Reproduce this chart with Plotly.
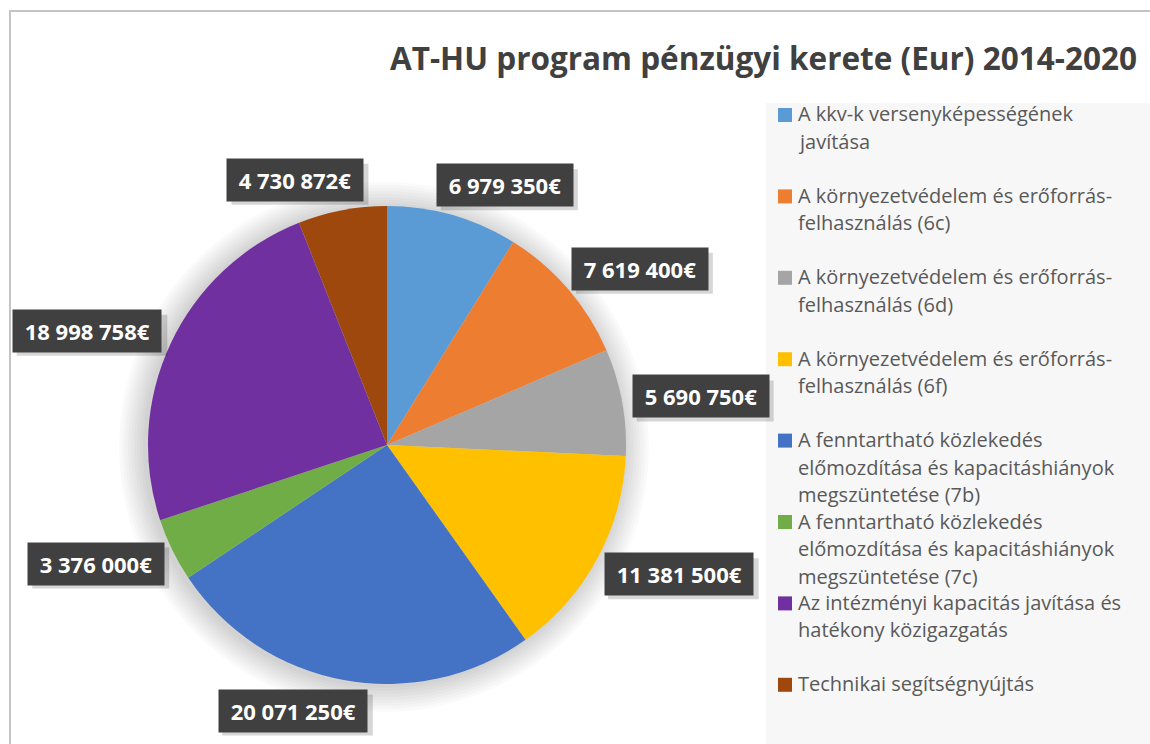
import math
import plotly.graph_objects as go

title = "AT-HU program pénzügyi kerete (Eur) 2014-2020"
categories = [
    "A kkv-k versenyképességének javítása",
    "A környezetvédelem és erőforrás-felhasználás (6c)",
    "A környezetvédelem és erőforrás-felhasználás (6d)",
    "A környezetvédelem és erőforrás-felhasználás (6f)",
    "A fenntartható közlekedés előmozdítása és kapacitáshiányok megszüntetése (7b)",
    "A fenntartható közlekedés előmozdítása és kapacitáshiányok megszüntetése (7c)",
    "Az intézményi kapacitás javítása és hatékony közigazgatás",
    "Technikai segítségnyújtás",
]
legend_lines = [
    ["A kkv-k versenyképességének", "javítása"],
    ["A környezetvédelem és erőforrás-", "felhasználás (6c)"],
    ["A környezetvédelem és erőforrás-", "felhasználás (6d)"],
    ["A környezetvédelem és erőforrás-", "felhasználás (6f)"],
    ["A fenntartható közlekedés", "előmozdítása és kapacitáshiányok", "megszüntetése (7b)"],
    ["A fenntartható közlekedés", "előmozdítása és kapacitáshiányok", "megszüntetése (7c)"],
    ["Az intézményi kapacitás javítása és", "hatékony közigazgatás"],
    ["Technikai segítségnyújtás"],
]
values = [6979350, 7619400, 5690750, 11381500, 20071250, 3376000, 18998758, 4730872]
colors = ["#5B9BD5", "#ED7D31", "#A5A5A5", "#FFC000", "#4472C4", "#70AD47", "#7030A0", "#9E480E"]

W, H = 1150, 744
def px(x): return x / W
def py(y): return 1 - y / H

# pie geometry in pixels
CX, CY, R = 387, 445, 239

def fmt(v):
    return f"{v:,}".replace(",", " ") + "€"

fig = go.Figure()
fig.add_trace(go.Pie(
    labels=categories, values=values, sort=False, direction="clockwise", rotation=0,
    marker=dict(colors=colors, line=dict(width=0)),
    textinfo="none", hoverinfo="label+value", showlegend=False,
    domain=dict(x=[px(CX - R), px(CX + R)], y=[py(CY + R), py(CY - R)]),
))

shapes = []
# outer chart border
shapes.append(dict(type="rect", xref="paper", yref="paper", x0=px(10), x1=px(1170), y0=py(770), y1=py(11),
                   line=dict(color="#C4C4C4", width=2), fillcolor="rgba(0,0,0,0)", layer="below"))
# legend panel
shapes.append(dict(type="rect", xref="paper", yref="paper", x0=px(766), x1=px(1160), y0=py(760), y1=py(103),
                   line=dict(width=0), fillcolor="#F7F7F7", layer="below"))
# soft pie shadow
for k in range(9):
    rr = R + 2 + k * 3
    shapes.append(dict(type="circle", xref="paper", yref="paper",
                       x0=px(CX - rr - 3), x1=px(CX + rr - 3), y0=py(CY + rr + 2), y1=py(CY - rr + 2),
                       line=dict(width=0), fillcolor="rgba(0,0,0,0.02)", layer="below"))

annotations = []
annotations.append(dict(text=f"<b>{title}</b>", x=px(1139), y=py(57), xref="paper", yref="paper",
                        xanchor="right", yanchor="middle", showarrow=False,
                        font=dict(family="Open Sans", size=31.5, color="#404040")))

# data labels, placed just outside each slice at its middle angle
total = sum(values)
cum = 0
RL = R + 11
HH = 20
for v in values:
    mid = (cum + v / 2) / total * 2 * math.pi
    cum += v
    s, c = math.sin(mid), math.cos(mid)
    txt = fmt(v)
    hw = 6.8 * len(txt)
    bx = CX + RL * s + math.copysign(abs(s) ** 0.25, s) * hw
    by = CY - RL * c - c * HH
    shapes.append(dict(type="rect", xref="paper", yref="paper", layer="above",
                       x0=px(bx - hw + 4), x1=px(bx + hw + 5), y0=py(by + HH + 5), y1=py(by - HH + 4),
                       line=dict(width=0), fillcolor="rgba(0,0,0,0.16)"))
    annotations.append(dict(text=f"<b>\u00a0{txt}\u00a0</b>", x=px(bx), y=py(by), xref="paper", yref="paper",
                            xanchor="center", yanchor="middle",
                            showarrow=False, bgcolor="#404040", borderpad=6,
                            font=dict(family="Open Sans", size=22, color="#FFFFFF")))

# legend drawn on the grey panel
LY0, LSTEP, LLINE = 114, 81.4, 27.5
for i, lines in enumerate(legend_lines):
    y0 = LY0 + i * LSTEP
    shapes.append(dict(type="rect", xref="paper", yref="paper", x0=px(778), x1=px(792),
                       y0=py(y0 + 8), y1=py(y0 - 6), line=dict(width=0), fillcolor=colors[i]))
    for j, ln in enumerate(lines):
        annotations.append(dict(text=ln, x=px(796), y=py(y0 + j * LLINE), xref="paper", yref="paper",
                                xanchor="left", yanchor="middle", showarrow=False,
                                font=dict(family="Open Sans", size=20, color="#595959")))

fig.update_layout(
    width=W, height=H, margin=dict(l=0, r=0, t=0, b=0),
    paper_bgcolor="#FFFFFF", plot_bgcolor="#FFFFFF",
    shapes=shapes, annotations=annotations,
)
fig.write_html("out.html", config={"displayModeBar": False},
               post_script="document.body.style.margin='0';document.body.style.overflow='hidden';")
